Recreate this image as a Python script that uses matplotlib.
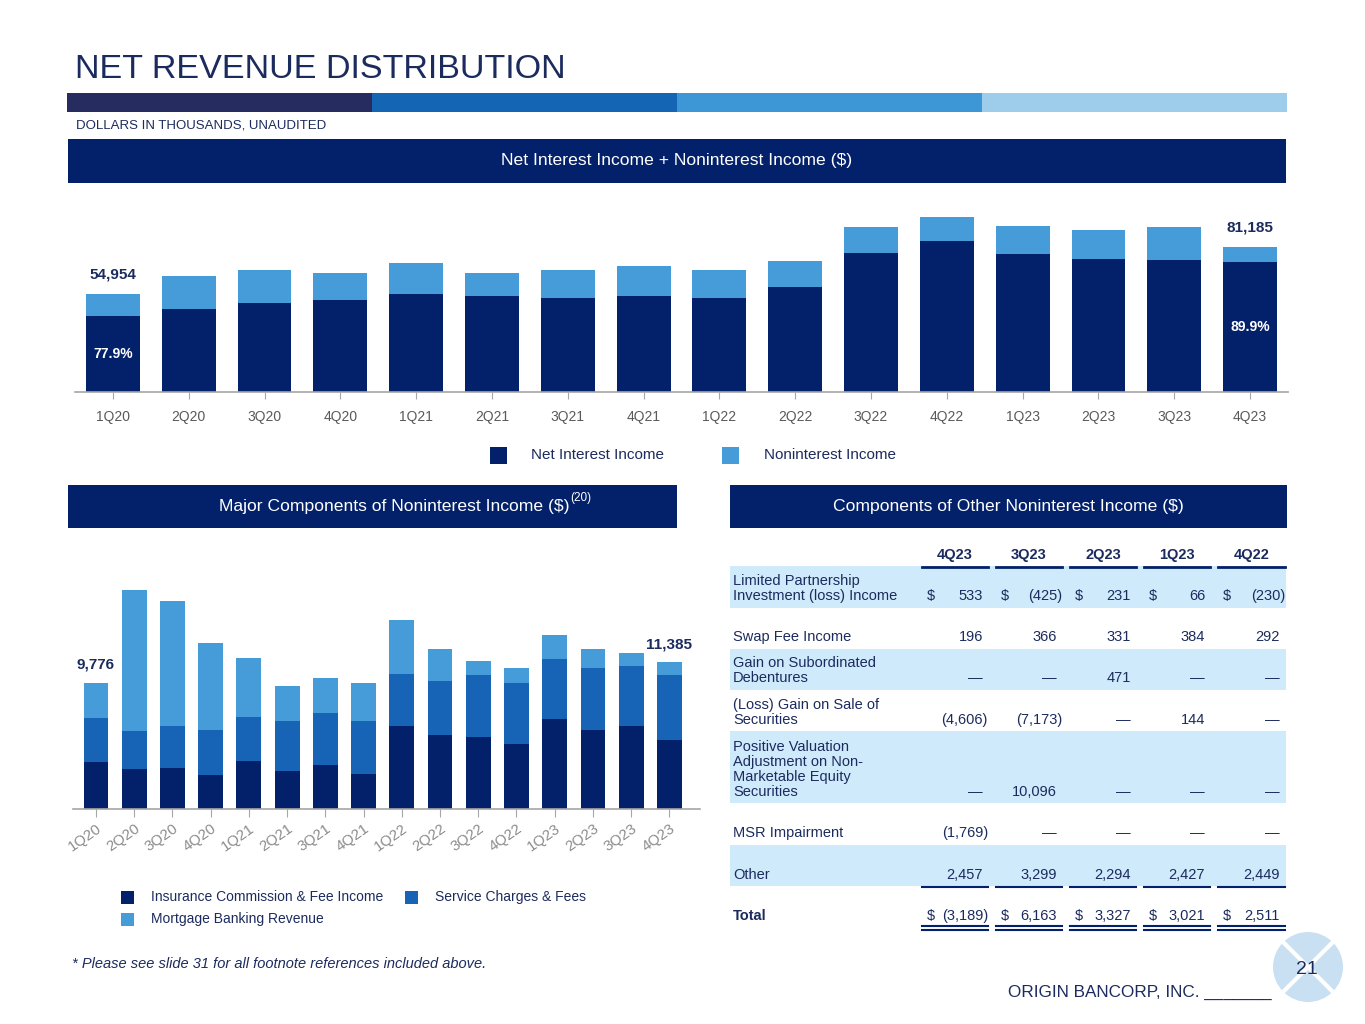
import matplotlib
matplotlib.use('Agg')
import matplotlib.pyplot as plt
from matplotlib.patches import Rectangle, Circle

plt.rcParams['font.family'] = ['Liberation Sans', 'DejaVu Sans']

# ---- data (dollars in thousands) ----
quarters = ['1Q20', '2Q20', '3Q20', '4Q20', '1Q21', '2Q21', '3Q21', '4Q21',
            '1Q22', '2Q22', '3Q22', '4Q22', '1Q23', '2Q23', '3Q23', '4Q23']
net_interest = [42809, 46200, 50110, 51790, 54770, 54030, 52540, 54030,
                52540, 58870, 78060, 84400, 77130, 74710, 73960, 72985]
noninterest = [12145, 19000, 18260, 15090, 17700, 12850, 15830, 16760,
               15830, 14350, 14160, 13600, 16020, 16020, 18260, 8200]

insurance = [3630, 3084, 3187, 2647, 3727, 2981, 3418, 2750,
             6476, 5705, 5603, 5063, 7016, 6142, 6476, 5350]
service_chg = [3396, 2956, 3290, 3495, 3418, 3829, 4035, 4061,
               4035, 4266, 4806, 4703, 4600, 4832, 4600, 5035]
mortgage = [2750, 10974, 9663, 6708, 4600, 2750, 2750, 2956,
            4189, 2442, 1105, 1208, 1902, 1439, 1002, 1000]

tbl_cols = ['4Q23', '3Q23', '2Q23', '1Q23', '4Q22']
tbl_rows = [
    (['Limited Partnership', 'Investment (loss) Income'], ['533', '(425)', '231', '66', '(230)']),
    (['Swap Fee Income'], ['196', '366', '331', '384', '292']),
    (['Gain on Subordinated', 'Debentures'], ['—', '—', '471', '—', '—']),
    (['(Loss) Gain on Sale of', 'Securities'], ['(4,606)', '(7,173)', '—', '144', '—']),
    (['Positive Valuation', 'Adjustment on Non-', 'Marketable Equity', 'Securities'],
     ['—', '10,096', '—', '—', '—']),
    (['MSR Impairment'], ['(1,769)', '—', '—', '—', '—']),
    (['Other'], ['2,457', '3,299', '2,294', '2,427', '2,449']),
]
tbl_total = ['(3,189)', '6,163', '3,327', '3,021', '2,511']

# ---- colours ----
NAVY = '#03216a'
TXT = '#1c2b5e'
BLUE_L = '#459cd8'
BLUE_M = '#1763b5'
FILL = '#cfeafb'
GREY = '#595959'

W, H = 1365, 1024
fig = plt.figure(figsize=(W / 100, H / 100), dpi=100)

bg = fig.add_axes([0, 0, 1, 1])
bg.set_xlim(0, W)
bg.set_ylim(H, 0)
bg.axis('off')


def px_axes(x0, y0, x1, y1):
    return fig.add_axes([x0 / W, 1 - y1 / H, (x1 - x0) / W, (y1 - y0) / H])


# title and strip
bg.text(75, 70, 'NET REVENUE DISTRIBUTION', fontsize=24.6, color=TXT, va='center')
for i, c in enumerate(['#262b60', '#1565b5', '#3d97d6', '#9dcdeb']):
    bg.add_patch(Rectangle((67 + i * 305, 93), 305, 19, color=c, lw=0))
bg.text(76, 125, 'DOLLARS IN THOUSANDS, UNAUDITED', fontsize=9.5, color=TXT, va='center')

# header boxes
def header(x0, x1, y0, y1, label):
    bg.add_patch(Rectangle((x0, y0), x1 - x0, y1 - y0, color=NAVY, lw=0))
    return bg.text((x0 + x1) / 2, (y0 + y1) / 2, label, fontsize=12.6, color='white',
                   ha='center', va='center')

header(68, 1286, 139, 183, r'Net Interest Income + Noninterest Income (\$)')
bg.add_patch(Rectangle((68, 485), 609, 43, color=NAVY, lw=0))
bg.text(570, 507, r'Major Components of Noninterest Income (\$)', fontsize=12.6,
        color='white', ha='right', va='center')
bg.text(570, 498, '(20)', fontsize=8.5, color='white', ha='left', va='center')
header(730, 1287, 485, 528, r'Components of Other Noninterest Income (\$)')

# ---- top chart ----
x = list(range(len(quarters)))
ax = px_axes(75, 190, 1288, 392)
ax.bar(x, net_interest, width=0.71, color=NAVY)
ax.bar(x, noninterest, width=0.71, bottom=net_interest, color=BLUE_L)
ax.set_xlim(-0.5, len(quarters) - 0.5)
ax.set_ylim(0, 113100)
ax.patch.set_alpha(0)
for s in ['top', 'right', 'left']:
    ax.spines[s].set_visible(False)
ax.spines['bottom'].set_color('#a6a6a6')
ax.spines['bottom'].set_linewidth(1.2)
ax.set_yticks([])
ax.set_xticks(x)
ax.set_xticklabels(quarters, fontsize=10, color=GREY)
ax.tick_params(axis='x', length=5, color='#a6a6a6', pad=8)
for i in [0, len(quarters) - 1]:
    tot = net_interest[i] + noninterest[i]
    ax.annotate(f'{tot:,}', (i, tot), xytext=(0, 9), textcoords='offset points',
                ha='center', va='bottom', fontsize=11, fontweight='bold', color=TXT)
    ax.text(i, net_interest[i] / 2, f'{net_interest[i] / tot:.1%}', ha='center',
            va='center', fontsize=10, fontweight='bold', color='white')

# top legend
bg.add_patch(Rectangle((490, 447), 17, 17, color=NAVY, lw=0))
bg.text(531, 455, 'Net Interest Income', fontsize=11, color=TXT, va='center')
bg.add_patch(Rectangle((722, 447), 17, 17, color=BLUE_L, lw=0))
bg.text(764, 455, 'Noninterest Income', fontsize=11, color=TXT, va='center')

# ---- bottom-left chart ----
ax2 = px_axes(73, 570, 700, 809)
b2 = [a + b for a, b in zip(insurance, service_chg)]
ax2.bar(x, insurance, width=0.65, color=NAVY)
ax2.bar(x, service_chg, width=0.65, bottom=insurance, color=BLUE_M)
ax2.bar(x, mortgage, width=0.65, bottom=b2, color=BLUE_L)
ax2.set_xlim(-0.6, len(quarters) - 0.2)
ax2.set_ylim(0, 18546)
ax2.patch.set_alpha(0)
for s in ['top', 'right', 'left']:
    ax2.spines[s].set_visible(False)
ax2.spines['bottom'].set_color('#a6a6a6')
ax2.spines['bottom'].set_linewidth(1.2)
ax2.set_yticks([])
ax2.set_xticks(x)
ax2.set_xticklabels(quarters, fontsize=10.8, color='#8c8c8c', rotation=35,
                    ha='right', rotation_mode='anchor')
ax2.tick_params(axis='x', length=6, color='#a6a6a6', pad=3)
for i in [0, len(quarters) - 1]:
    tot = insurance[i] + service_chg[i] + mortgage[i]
    ax2.annotate(f'{tot:,}', (i, tot), xytext=(0, 8), textcoords='offset points',
                 ha='center', va='bottom', fontsize=11, fontweight='bold', color=TXT)

# bottom legend
for (lx, ly, c, lab) in [(121, 897, NAVY, 'Insurance Commission & Fee Income'),
                         (405, 897, BLUE_M, 'Service Charges & Fees'),
                         (121, 919, BLUE_L, 'Mortgage Banking Revenue')]:
    bg.add_patch(Rectangle((lx, ly - 6.5), 13, 13, color=c, lw=0))
    bg.text(lx + 30, ly, lab, fontsize=10, color=TXT, va='center')

bg.text(72, 964, '* Please see slide 31 for all footnote references included above.',
        fontsize=10.5, style='italic', color=TXT, va='center')

# ---- table ----
col_l = [922 + 74 * k for k in range(5)]
col_r = [c + 66 for c in col_l]
col_r[-1] = 1285
for k, lab in enumerate(tbl_cols):
    bg.text((col_l[k] + col_r[k]) / 2, 555, lab, fontsize=10.5, fontweight='bold',
            color=TXT, ha='center', va='center')
    bg.plot([col_l[k], col_r[k]], [567, 567], color=NAVY, lw=2)

# (fill top, fill bottom, first text line y) per row
row_layout = [(566, 608, 581), (None, None, 637), (649, 690, 663), (None, None, 705),
              (731, 803, 747), (None, None, 833), (845, 886, 875)]
for (labels, vals), (f0, f1, ty) in zip(tbl_rows, row_layout):
    if f0 is not None:
        bg.add_patch(Rectangle((730, f0), 556, f1 - f0, color=FILL, lw=0))
    for j, line in enumerate(labels):
        bg.text(733, ty + 15 * j, line, fontsize=10.5, color=TXT, va='center')
    vy = ty + 15 * (len(labels) - 1)
    for k, v in enumerate(vals):
        xr = col_r[k] if v.startswith('(') else col_r[k] - 5
        bg.text(xr, vy, v, fontsize=10.5, color=TXT, ha='right', va='center')
        if labels[0].startswith('Limited'):
            bg.text(col_l[k] + 5, vy, r'\$', fontsize=10.5, color=TXT, va='center')

for k in range(5):
    bg.plot([col_l[k], col_r[k]], [887, 887], color=NAVY, lw=1.5)
    bg.plot([col_l[k], col_r[k]], [926, 926], color=NAVY, lw=1.5)
    bg.plot([col_l[k], col_r[k]], [930, 930], color=NAVY, lw=1.5)

bg.text(733, 916, 'Total', fontsize=10.5, fontweight='bold', color=TXT, va='center')
for k, v in enumerate(tbl_total):
    xr = col_r[k] if v.startswith('(') else col_r[k] - 5
    bg.text(xr, 916, v, fontsize=10.5, color=TXT, ha='right', va='center')
    bg.text(col_l[k] + 5, 916, r'\$', fontsize=10.5, color=TXT, va='center')

# ---- footer ----
bg.text(1008, 992, 'ORIGIN BANCORP, INC. _______', fontsize=12.3, color=TXT, va='center')
bg.add_patch(Circle((1308, 967), 35, color='#c9e0f2', lw=0))
d = 35 * 0.7071
bg.plot([1308 - d, 1308 + d], [967 - d, 967 + d], color='white', lw=3)
bg.plot([1308 - d, 1308 + d], [967 + d, 967 - d], color='white', lw=3)
bg.text(1307, 969, '21', fontsize=14, color=TXT, ha='center', va='center')

fig.savefig('out.png', dpi=100)
